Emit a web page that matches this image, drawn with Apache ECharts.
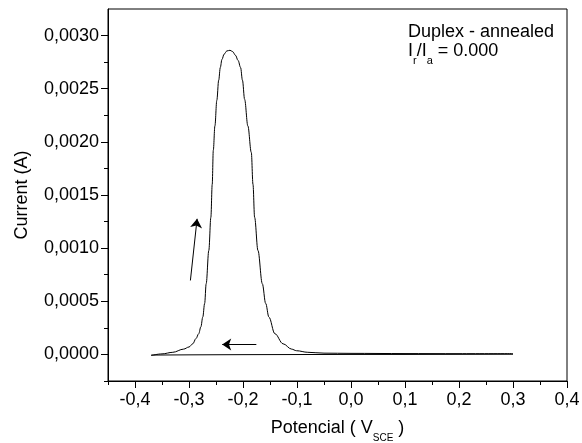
<!DOCTYPE html>
<html>
<head>
<meta charset="utf-8">
<script src="https://cdn.jsdelivr.net/npm/echarts@6/dist/echarts.min.js"></script>
<style>html,body{margin:0;padding:0;background:#fff}#c{width:582px;height:443px}</style>
</head>
<body>
<div id="c"></div>
<script>
// Forward scan (anodic) – potential (V) and current (A)
const potentialForward = [-0.370,-0.350,-0.330,-0.310,-0.300,-0.293,-0.287,-0.282,-0.278,-0.2745,-0.271,-0.2682,-0.2633,-0.2595,-0.2570,-0.2550,-0.2520,-0.2485,-0.2450,-0.2420,-0.2390,-0.2350,-0.2300,-0.2240,-0.2190,-0.2140,-0.2090,-0.2045,-0.2010,-0.1970,-0.1910,-0.1846,-0.1815,-0.1785,-0.1723,-0.1642,-0.1580,-0.1520,-0.1410,-0.1258,-0.1100,-0.1010,-0.0800,-0.0500,0.0,0.1,0.2,0.3];
const currentForward = [-0.00001,0.000005,0.00002,0.00005,0.00007,0.0001,0.00015,0.000195,0.00026,0.000351,0.00048,0.000665,0.000978,0.00129,0.0016,0.00192,0.00215,0.00239,0.00258,0.0027,0.002775,0.002825,0.002855,0.002862,0.002848,0.002815,0.002765,0.0027,0.00258,0.0024,0.00215,0.0019,0.0016,0.00129,0.000978,0.000665,0.00048,0.000351,0.000195,0.0001,0.00005,0.000035,0.00002,0.000012,0.00001,0.000008,0.000007,0.000007];
// Reverse scan
const potentialReverse = [0.3,0.2,0.1,0.0,-0.1,-0.2,-0.3,-0.37];
const currentReverse = [0.000002,0.000001,0.0,0.0,-0.000001,-0.000002,-0.000004,-0.000006];
// Scan direction arrows [potential, current]
const arrowUp = [[-0.2974,0.000696],[-0.285,0.001276]];
const arrowLeft = [[-0.1753,0.000094],[-0.2385,0.000094]];
// Tick labels
const xTickLabels = [-0.4,-0.3,-0.2,-0.1,0.0,0.1,0.2,0.3,0.4];
const xMinorTicks = [-0.45,-0.35,-0.25,-0.15,-0.05,0.05,0.15,0.25,0.35];
const yTickLabels = [0,0.0005,0.001,0.0015,0.002,0.0025,0.003];
const yMinorTicks = [-0.00025,0.00025,0.00075,0.00125,0.00175,0.00225,0.00275];

const FONT = "'Liberation Sans', Arial, sans-serif";
const chart = echarts.init(document.getElementById('c'), null, {renderer:'canvas'});

const fwd = potentialForward.map((x,i)=>[x,currentForward[i]]);
const rev = potentialReverse.map((x,i)=>[x,currentReverse[i]]);

const xBase = {type:'value', min:-0.45, max:0.4, gridIndex:0, position:'bottom', splitLine:{show:false}};
const yBase = {type:'value', min:-0.00025, max:0.00325, gridIndex:0, position:'left', splitLine:{show:false}};

chart.setOption({
  backgroundColor:'#fff',
  animation:false,
  textStyle:{fontFamily:FONT},
  title:{
    left:408, top:23, padding:0,
    text:'{m|Duplex - annealed}\n{n|I}{s|r}{n|/I}{s|a}{n| = 0.000}',
    textStyle:{fontWeight:'normal', rich:{
      m:{fontSize:18, lineHeight:19, color:'#000', fontFamily:FONT, fontWeight:'normal'},
      n:{fontSize:18, lineHeight:18, color:'#000', fontFamily:FONT, fontWeight:'normal', verticalAlign:'top'},
      s:{fontSize:11, lineHeight:11, color:'#000', fontFamily:FONT, fontWeight:'normal', verticalAlign:'top', padding:[13,0,0,0]}
    }}
  },
  grid:{left:108, top:9, right:15, bottom:62, show:true, borderColor:'#000', borderWidth:1, backgroundColor:'transparent',
        containLabel:false, outerBoundsMode:'none'},
  xAxis:[
    Object.assign({}, xBase, {
      name:'{m|Potencial ( V}{s|SCE}{m| )}',
      nameLocation:'middle', nameGap:38,
      nameTextStyle:{rich:{
        m:{fontSize:18, lineHeight:18, color:'#000', fontFamily:FONT, verticalAlign:'top'},
        s:{fontSize:10, lineHeight:10, color:'#000', fontFamily:FONT, verticalAlign:'top', padding:[14,0,0,0]}
      }},
      axisLine:{show:true, onZero:false, lineStyle:{color:'#000', width:1}},
      axisTick:{show:true, length:7, customValues:xTickLabels, lineStyle:{color:'#000', width:1}},
      axisLabel:{show:true, margin:10, fontSize:18, color:'#000', fontFamily:FONT, customValues:xTickLabels,
        formatter:v=>(Math.abs(v)<1e-9?0:v).toFixed(1).replace('.',',')}
    }),
    Object.assign({}, xBase, {
      axisLine:{show:false, onZero:false},
      axisTick:{show:true, length:4, customValues:xMinorTicks, lineStyle:{color:'#000', width:1}},
      axisLabel:{show:false}
    })
  ],
  yAxis:[
    Object.assign({}, yBase, {
      name:'Current (A)', nameLocation:'middle', nameGap:77,
      nameTextStyle:{fontSize:18, color:'#000', fontFamily:FONT},
      axisLine:{show:true, onZero:false, lineStyle:{color:'#000', width:1}},
      axisTick:{show:true, length:7, customValues:yTickLabels, lineStyle:{color:'#000', width:1}},
      axisLabel:{show:true, margin:9, fontSize:18, color:'#000', fontFamily:FONT, customValues:yTickLabels,
        formatter:v=>v.toFixed(4).replace('.',',')}
    }),
    Object.assign({}, yBase, {
      axisLine:{show:false, onZero:false},
      axisTick:{show:true, length:4, customValues:yMinorTicks, lineStyle:{color:'#000', width:1}},
      axisLabel:{show:false}
    })
  ],
  series:[
    {type:'line', xAxisIndex:0, yAxisIndex:0, data:fwd, showSymbol:false, symbol:'none',
     smooth:0.35, smoothMonotone:'x', lineStyle:{color:'#000', width:1}, silent:true},
    {type:'line', xAxisIndex:0, yAxisIndex:0, data:rev, showSymbol:false, symbol:'none',
     lineStyle:{color:'#000', width:1}, silent:true,
     markLine:{silent:true, symbol:['none','arrow'], symbolSize:9, label:{show:false},
       itemStyle:{color:'#000'},
       lineStyle:{color:'#000', width:1, type:'solid'},
       emphasis:{disabled:true},
       data:[
         [{coord:arrowUp[0]},{coord:arrowUp[1]}],
         [{coord:arrowLeft[0]},{coord:arrowLeft[1]}]
       ]}}
  ]
});
</script>
</body>
</html>
